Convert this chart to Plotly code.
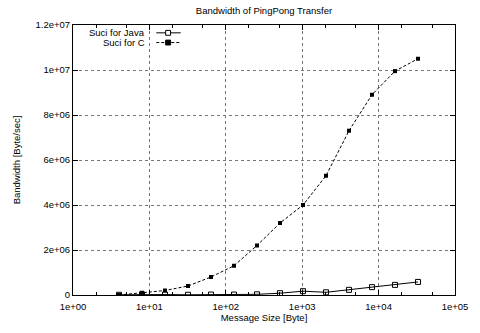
import plotly.graph_objects as go

sizes = [4, 8, 16, 32, 64, 128, 256, 512, 1024, 2048, 4096, 8192, 16384, 32768]
java_bw = [0.01e6, 0.03e6, 0.02e6, 0.01e6, 0.02e6, 0.02e6, 0.03e6, 0.08e6, 0.17e6, 0.12e6, 0.23e6, 0.35e6, 0.45e6, 0.58e6]
c_bw = [0.0e6, 0.1e6, 0.2e6, 0.4e6, 0.8e6, 1.3e6, 2.2e6, 3.2e6, 4.0e6, 5.3e6, 7.3e6, 8.9e6, 9.95e6, 10.5e6]
series_names = ["Suci for Java", "Suci for C"]

x_tickvals = [1, 10, 100, 1000, 10000, 100000]
x_ticktext = ["1e+00", "1e+01", "1e+02", "1e+03", "1e+04", "1e+05"]
y_tickvals = [0, 2e6, 4e6, 6e6, 8e6, 1e7, 1.2e7]
y_ticktext = ["0", "2e+06", "4e+06", "6e+06", "8e+06", "1e+07", "1.2e+07"]

FONT = "Liberation Sans, Arial, sans-serif"
FS = 9.5
TXT = dict(family=FONT, size=FS, color="black")

fig = go.Figure()
fig.add_trace(go.Scatter(
    x=sizes, y=java_bw, name=series_names[0], mode="lines+markers",
    line=dict(color="black", width=1),
    marker=dict(symbol="square-open", size=5, color="black", line=dict(width=1, color="black")),
))
fig.add_trace(go.Scatter(
    x=sizes, y=c_bw, name=series_names[1], mode="lines+markers",
    line=dict(color="black", width=1, dash="3px,2px"),
    marker=dict(symbol="square", size=4, color="black"),
))

axis_common = dict(
    showline=True, linecolor="black", linewidth=1, mirror="ticks",
    ticks="inside", ticklen=5, tickcolor="black",
    showgrid=True, gridcolor="#777777", griddash="dot", gridwidth=1,
    zeroline=False, tickfont=TXT,
)

fig.update_xaxes(
    type="log", range=[0, 5], tickvals=x_tickvals, ticktext=x_ticktext,
    ticklabelstandoff=3,
    title=dict(text="Message Size [Byte]", font=TXT, standoff=2),
    minor=dict(ticks="inside", ticklen=3, tickcolor="black", showgrid=False),
    **axis_common,
)
fig.update_yaxes(
    range=[0, 1.2e7], tickvals=y_tickvals, ticktext=y_ticktext,
    title=dict(text="Bandwidth [Byte/sec]", font=TXT, standoff=13),
    **axis_common,
)

# gnuplot-style legend: right-aligned label followed by a line sample (layout decoration)
rows = [0.971, 0.935]
text_right = 0.195
s0, s1, sm = 0.218, 0.282, 0.249
dx, dy = 2.5 / 390, 2.5 / 277
styles = [dict(dash="solid", fill="white"), dict(dash="3px,2px", fill="black")]
annotations = []
shapes = []
for name, ry, st in zip(series_names, rows, styles):
    annotations.append(dict(text=name, x=text_right, y=ry, xref="paper", yref="paper",
                            xanchor="right", yanchor="middle", showarrow=False, font=TXT))
    shapes.append(dict(type="line", xref="paper", yref="paper", x0=s0, x1=s1, y0=ry, y1=ry,
                       line=dict(color="black", width=1, dash=st["dash"])))
    shapes.append(dict(type="rect", xref="paper", yref="paper", x0=sm - dx, x1=sm + dx,
                       y0=ry - dy, y1=ry + dy, fillcolor=st["fill"],
                       line=dict(color="black", width=1)))

fig.update_layout(
    width=480, height=333,
    margin=dict(l=73, r=17, t=25, b=31),
    paper_bgcolor="white", plot_bgcolor="white",
    title=dict(text="Bandwidth of PingPong Transfer", x=0.5, xref="paper", y=1 - 11 / 333,
               yref="container", xanchor="center", yanchor="middle", font=TXT),
    font=TXT,
    showlegend=False,
    annotations=annotations,
    shapes=shapes,
)

fig.write_html("out.html", config={"displayModeBar": False},
               post_script="document.body.style.margin='0';")
